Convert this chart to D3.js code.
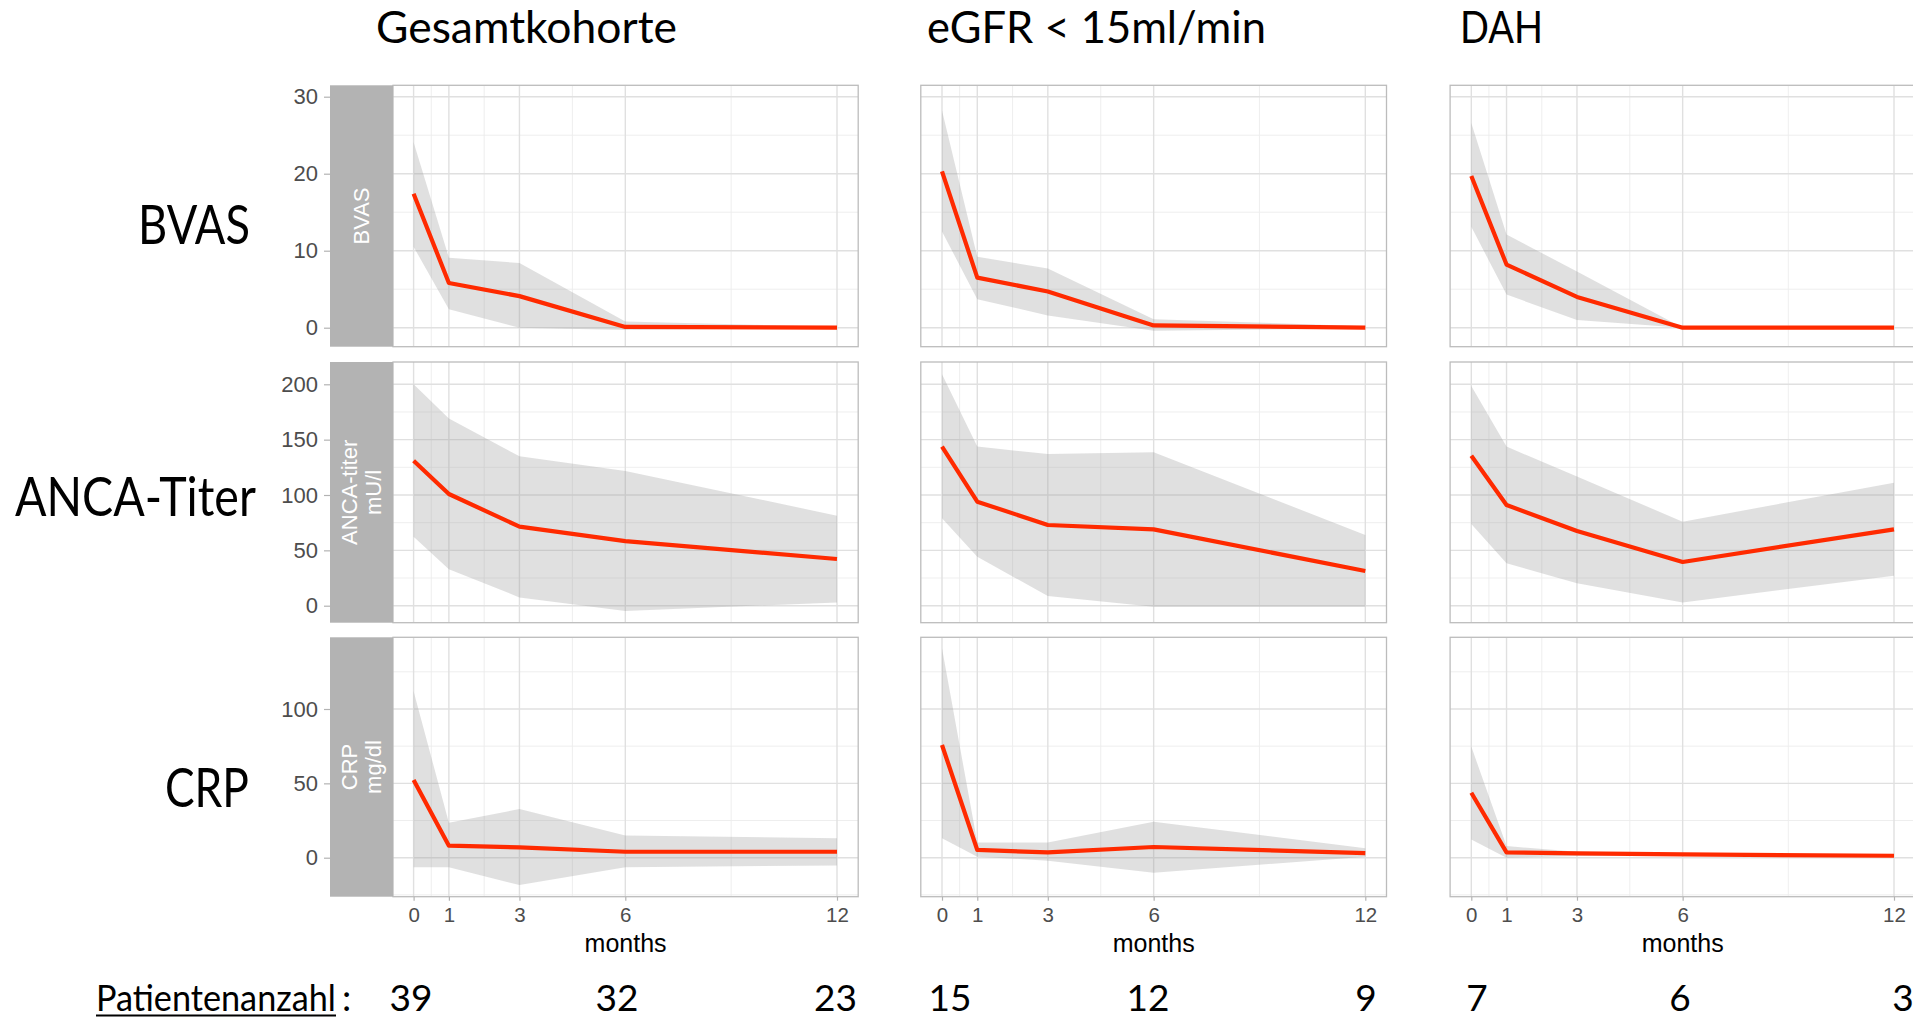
<!DOCTYPE html>
<html><head><meta charset="utf-8">
<script src="https://cdn.jsdelivr.net/npm/d3@7"></script>
<style>body{margin:0;background:#fff}</style>
</head><body>
<svg id="c" width="1913" height="1020"></svg>
<script>
// ---------- data ----------
const months = [0, 1, 3, 6, 12];
const monthMinor = [0.5, 2, 4.5, 9];
const groups = ["Gesamtkohorte", "eGFR < 15ml/min", "DAH"];
const rowLabels = ["BVAS", "ANCA-Titer", "CRP"];
const stripLabels = [["BVAS"], ["ANCA-titer", "mU/l"], ["CRP", "mg/dl"]];
const yTicksBVAS = [0, 10, 20, 30];
const yTicksANCA = [0, 50, 100, 150, 200];
const yTicksCRP = [0, 50, 100];
const patientLabel = "Patientenanzahl";
const patientCounts = [[39, 32, 23], [15, 12, 9], [7, 6, 3]];

// per group: Gesamtkohorte, eGFR<15, DAH
const bvasMean = [[17.4, 5.8, 4.1, 0.1, 0], [20.3, 6.5, 4.7, 0.3, 0], [19.7, 8.2, 4.0, 0, 0]];
const bvasLo   = [[10.5, 2.4, 0, -0.3, 0], [12.5, 3.7, 1.6, -0.4, -0.1], [13.1, 4.3, 1.0, 0, 0]];
const bvasHi   = [[24.1, 9.1, 8.4, 0.8, 0.1], [28.2, 9.2, 7.7, 1.1, 0.2], [26.6, 12.1, 7.3, 0, 0]];

const ancaMean = [[131, 100.9, 71.4, 58.4, 42.2], [143.7, 94, 72.9, 69, 31.3], [135.5, 91, 67.5, 39.5, 69]];
const ancaLo   = [[62.3, 33, 7.5, -4.8, 3], [78.9, 44.3, 8.7, -1, -1], [73.8, 38.3, 20.2, 3, 27.1]];
const ancaHi   = [[200, 169, 135, 121.7, 81.3], [209, 143.7, 137, 138.6, 63.9], [198.5, 143.7, 116.6, 75.9, 111.1]];

const crpMean = [[52.2, 8.1, 7, 4, 4], [75.8, 5.2, 3.6, 7.2, 3.1], [43.7, 3.6, 2.9, 2.2, 1.3]];
const crpLo   = [[-6.5, -6.5, -18.4, -6.5, -5.2], [13, 0.7, -2, -10.1, 0.7], [12.3, 0, 1.1, 1.6, 0.4]];
const crpHi   = [[112, 23.5, 32.7, 15, 13], [140.8, 10.3, 10.3, 24.2, 6.3], [74.7, 7.8, 4, 2.9, 2.2]];

const rowsData = [
  {ticks: yTicksBVAS, mean: bvasMean, lo: bvasLo, hi: bvasHi},
  {ticks: yTicksANCA, mean: ancaMean, lo: ancaLo, hi: ancaHi},
  {ticks: yTicksCRP, mean: crpMean, lo: crpLo, hi: crpHi}
];

// ---------- layout ----------
const colGeom = [
  {x0: 393, x1: 858.2, zero: 413.6, twelve: 837},
  {x0: 920.8, x1: 1386.5, zero: 942, twelve: 1365.3},
  {x0: 1450.1, x1: 1915.2, zero: 1471.3, twelve: 1894}
];
const rowGeom = [
  {top: 85.3, bottom: 346.7, y0: 327.7, yRef: 96.7, refVal: 30},
  {top: 362, bottom: 622.7, y0: 605.7, yRef: 384.3, refVal: 200},
  {top: 637.3, bottom: 896.7, y0: 857.7, yRef: 709, refVal: 100}
];
const strip = {x0: 330, x1: 393};
const titlePos = [{x: 376, w: 301}, {x: 927, w: 339}, {x: 1460, w: 83}];
const titleBase = 43;
const rowLabelPos = [{x: 138, w: 112, base: 244}, {x: 15, w: 241, base: 516}, {x: 165, w: 84, base: 807}];
const countX = [[411, 617, 835.5], [950, 1148, 1366], [1477, 1680, 1903]];
const bottomBase = 1011;

const svg = d3.select("#c");
const defs = svg.append("defs");
const bigFont = "Lato, 'Open Sans', sans-serif";
const plotFont = "'Liberation Sans', Arial, Helvetica, sans-serif";

// text squeezed horizontally to a target width via transform
function fitText(txt, x, base, size, w) {
  const t = svg.append("text").attr("font-family", bigFont).attr("font-size", size)
    .attr("fill", "#000").text(txt);
  const nat = t.node().getComputedTextLength();
  const sx = w / nat;
  t.attr("transform", `translate(${x},${base}) scale(${sx},1)`);
  return t;
}

rowGeom.forEach((rg, r) => {
  colGeom.forEach((cg, c) => {
    const rd = rowsData[r];
    const x = d3.scaleLinear().domain([0, 12]).range([cg.zero, cg.twelve]);
    const y = d3.scaleLinear().domain([0, rg.refVal]).range([rg.y0, rg.yRef]);
    const yMin = y.invert(rg.bottom), yMax = y.invert(rg.top);
    const id = `clip-${r}-${c}`;
    defs.append("clipPath").attr("id", id).append("rect")
      .attr("x", cg.x0).attr("y", rg.top).attr("width", cg.x1 - cg.x0).attr("height", rg.bottom - rg.top);
    const g = svg.append("g");
    const p = g.append("g").attr("clip-path", `url(#${id})`);
    p.append("rect").attr("x", cg.x0).attr("y", rg.top).attr("width", cg.x1 - cg.x0)
      .attr("height", rg.bottom - rg.top).attr("fill", "#fff");

    // minor grid
    const step = rd.ticks[1] - rd.ticks[0];
    const yMinor = [];
    for (let v = rd.ticks[0] - step * 5.5; v <= yMax; v += step) if (v >= yMin) yMinor.push(v);
    p.selectAll(".ymin").data(yMinor).join("line")
      .attr("x1", cg.x0).attr("x2", cg.x1).attr("y1", d => y(d)).attr("y2", d => y(d))
      .attr("stroke", "#ececec").attr("stroke-width", 0.9);
    p.selectAll(".xmin").data(monthMinor).join("line")
      .attr("x1", d => x(d)).attr("x2", d => x(d)).attr("y1", rg.top).attr("y2", rg.bottom)
      .attr("stroke", "#ececec").attr("stroke-width", 0.9);
    // major grid
    p.selectAll(".ymaj").data(rd.ticks).join("line")
      .attr("x1", cg.x0).attr("x2", cg.x1).attr("y1", d => y(d)).attr("y2", d => y(d))
      .attr("stroke", "#e0e0e0").attr("stroke-width", 1.4);
    p.selectAll(".xmaj").data(months).join("line")
      .attr("x1", d => x(d)).attr("x2", d => x(d)).attr("y1", rg.top).attr("y2", rg.bottom)
      .attr("stroke", "#e0e0e0").attr("stroke-width", 1.4);

    // ribbon
    const area = d3.area().x((d, i) => x(months[i])).y0((d, i) => y(rd.lo[c][i])).y1((d, i) => y(rd.hi[c][i]));
    p.append("path").datum(months).attr("d", area).attr("fill", "#999").attr("fill-opacity", 0.3);
    // mean line
    const line = d3.line().x((d, i) => x(months[i])).y(d => y(d));
    p.append("path").datum(rd.mean[c]).attr("d", line).attr("fill", "none")
      .attr("stroke", "#ff2a00").attr("stroke-width", 4.2).attr("stroke-linejoin", "round");

    // border
    g.append("rect").attr("x", cg.x0).attr("y", rg.top).attr("width", cg.x1 - cg.x0)
      .attr("height", rg.bottom - rg.top).attr("fill", "none").attr("stroke", "#bcbcbc").attr("stroke-width", 1.3);

    if (c === 0) {
      g.append("rect").attr("x", strip.x0).attr("y", rg.top).attr("width", strip.x1 - strip.x0)
        .attr("height", rg.bottom - rg.top).attr("fill", "#b3b3b3");
      const cx = (strip.x0 + strip.x1) / 2, cy = (rg.top + rg.bottom) / 2;
      const lines = stripLabels[r];
      lines.forEach((t, k) => {
        const off = (k - (lines.length - 1) / 2) * 23.7;
        g.append("text").attr("transform", `translate(${cx + off},${cy}) rotate(-90)`)
          .attr("text-anchor", "middle").attr("dominant-baseline", "central")
          .attr("font-family", plotFont).attr("font-size", 22).attr("fill", "#fff").text(t);
      });
      const ax = g.append("g").attr("transform", `translate(${strip.x0},0)`)
        .call(d3.axisLeft(y).tickValues(rd.ticks).tickSize(6).tickPadding(6));
      ax.select(".domain").remove();
      ax.selectAll(".tick line").attr("stroke", "#b3b3b3").attr("stroke-width", 1.2);
      ax.selectAll(".tick text").attr("fill", "#4d4d4d").attr("font-size", 22).attr("font-family", plotFont);
    }
    if (r === 2) {
      const ax = g.append("g").attr("transform", `translate(0,${rg.bottom})`)
        .call(d3.axisBottom(x).tickValues(months).tickSize(4).tickPadding(7));
      ax.select(".domain").remove();
      ax.selectAll(".tick line").attr("stroke", "#b3b3b3").attr("stroke-width", 1.2);
      ax.selectAll(".tick text").attr("fill", "#4d4d4d").attr("font-size", 20.5).attr("font-family", plotFont);
      g.append("text").attr("x", (cg.x0 + cg.x1) / 2).attr("y", 952).attr("text-anchor", "middle")
        .attr("font-family", plotFont).attr("font-size", 25).attr("fill", "#000").text("months");
    }
  });
});

// column titles
groups.forEach((t, i) => fitText(t, titlePos[i].x, titleBase, 44, titlePos[i].w));
// row labels
rowLabels.forEach((t, i) => fitText(t, rowLabelPos[i].x, rowLabelPos[i].base, 54, rowLabelPos[i].w));
// patient counts
fitText(patientLabel, 96, bottomBase, 37, 240);
svg.append("line").attr("x1", 96).attr("x2", 336).attr("y1", 1015.5).attr("y2", 1015.5)
  .attr("stroke", "#000").attr("stroke-width", 2.2);
svg.append("text").attr("x", 342).attr("y", bottomBase).attr("font-family", bigFont).attr("font-size", 37)
  .attr("fill", "#000").text(":");
patientCounts.forEach((arr, c) => {
  arr.forEach((n, k) => {
    svg.append("text").attr("x", countX[c][k]).attr("y", bottomBase).attr("text-anchor", "middle")
      .attr("font-family", bigFont).attr("font-size", 37).attr("fill", "#000").text(n);
  });
});
</script>
</body></html>
